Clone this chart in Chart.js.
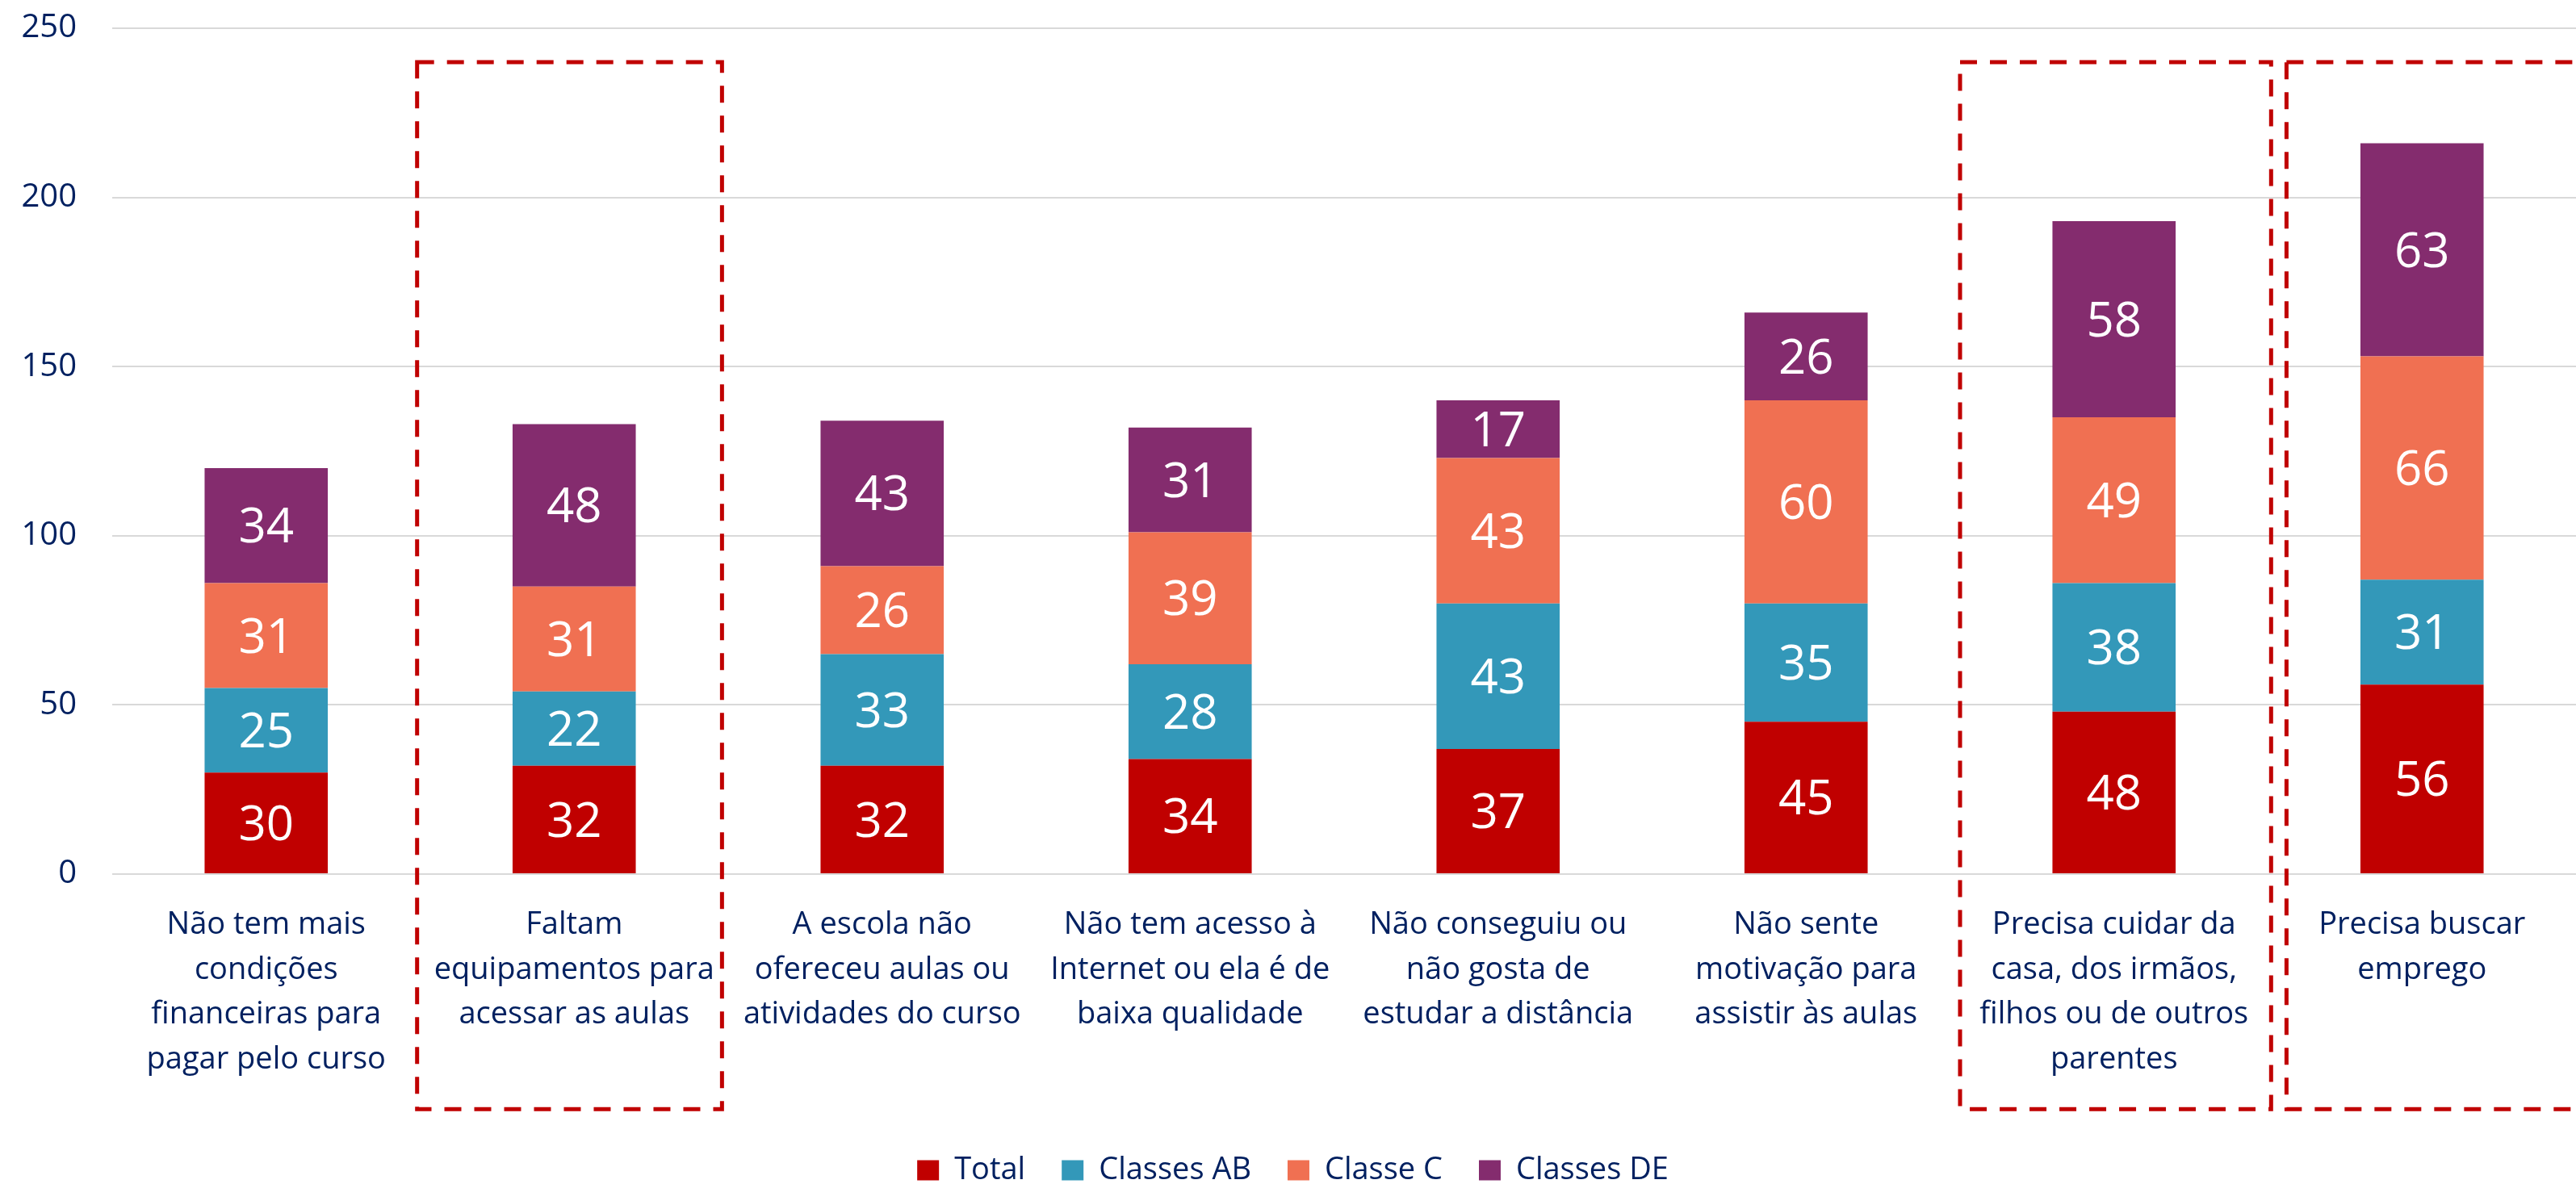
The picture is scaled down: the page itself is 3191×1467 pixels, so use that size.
<!DOCTYPE html>
<html>
<head>
<meta charset="utf-8">
<script src="https://cdn.jsdelivr.net/npm/chart.js@4"></script>
<style>
  html, body { margin: 0; padding: 0; background: #fff; }
  canvas { display: block; }
</style>
</head>
<body>
<canvas id="myChart" width="3191" height="1467" style="width:3191px;height:1467px"></canvas>
<script>
const categories = [
  ['Não tem mais', 'condições', 'financeiras para', 'pagar pelo curso'],
  ['Faltam', 'equipamentos para', 'acessar as aulas'],
  ['A escola não', 'ofereceu aulas ou', 'atividades do curso'],
  ['Não tem acesso à', 'Internet ou ela é de', 'baixa qualidade'],
  ['Não conseguiu ou', 'não gosta de', 'estudar a distância'],
  ['Não sente', 'motivação para', 'assistir às aulas'],
  ['Precisa cuidar da', 'casa, dos irmãos,', 'filhos ou de outros', 'parentes'],
  ['Precisa buscar', 'emprego'],
];

const total = [30, 32, 32, 34, 37, 45, 48, 56];
const classesAB = [25, 22, 33, 28, 43, 35, 38, 31];
const classeC = [31, 31, 26, 39, 43, 60, 49, 66];
const classesDE = [34, 48, 43, 31, 17, 26, 58, 63];

const yTicks = [0, 50, 100, 150, 200, 250];

// dashed highlight boxes, spans in category units
const highlights = [[0.49, 1.48], [5.5, 6.51], [6.56, 7.6]];

const navy = '#002060';
const font = 'Open Sans';

const valueLabels = {
  id: 'valueLabels',
  afterDatasetsDraw(chart) {
    const ctx = chart.ctx;
    ctx.save();
    ctx.fillStyle = '#fff';
    ctx.font = '60px "' + font + '"';
    ctx.textAlign = 'center';
    ctx.textBaseline = 'middle';
    chart.data.datasets.forEach((ds, i) => {
      chart.getDatasetMeta(i).data.forEach((bar, j) => {
        ctx.fillText(ds.data[j], bar.x, (bar.y + bar.base) / 2 + 4);
      });
    });
    ctx.restore();
  },
};

const dashedBoxes = {
  id: 'dashedBoxes',
  afterDraw(chart) {
    const ctx = chart.ctx;
    const x = chart.scales.x;
    const y = chart.scales.y;
    ctx.save();
    ctx.strokeStyle = '#C00000';
    ctx.lineWidth = 5;
    ctx.setLineDash([21, 16]);
    highlights.forEach(([a, b]) => {
      const left = x.getPixelForValue(a);
      const right = x.getPixelForValue(b);
      const top = y.getPixelForValue(240);
      const bottom = y.getPixelForValue(-69.5);
      ctx.strokeRect(left, top, right - left, bottom - top);
    });
    ctx.restore();
  },
};

let ctx = document.getElementById('myChart').getContext('2d');
let myChart = new Chart(ctx, {
  type: 'bar',
  data: {
    labels: categories,
    datasets: [
      { label: 'Total', data: total, backgroundColor: '#C00000' },
      { label: 'Classes AB', data: classesAB, backgroundColor: '#3398B9' },
      { label: 'Classe C', data: classeC, backgroundColor: '#F07052' },
      { label: 'Classes DE', data: classesDE, backgroundColor: '#842C6E' },
    ],
  },
  options: {
    responsive: false,
    animation: false,
    devicePixelRatio: 1,
    layout: { padding: { top: 35, left: 0, right: -12, bottom: -12 } },
    datasets: {
      bar: { categoryPercentage: 1, barPercentage: 0.4, borderWidth: 0 },
    },
    scales: {
      x: {
        stacked: true,
        grid: { display: false },
        border: { display: false },
        ticks: {
          color: navy,
          font: { family: font, size: 38, lineHeight: 1.47 },
          padding: 27,
          maxRotation: 0,
          autoSkip: false,
        },
        afterFit(scale) { scale.height = 303; },
      },
      y: {
        stacked: true,
        min: 0,
        max: 250,
        afterBuildTicks(scale) { scale.ticks = yTicks.map((v) => ({ value: v })); },
        grid: { color: '#D9D9D9', lineWidth: 2, drawTicks: false },
        border: { display: false },
        ticks: {
          color: navy,
          font: { family: font, size: 40 },
          padding: 44,
        },
        afterFit(scale) {
          scale.width = 139;
          scale.paddingTop = 24;
          scale.paddingBottom = 24;
        },
      },
    },
    plugins: {
      legend: {
        position: 'bottom',
        labels: {
          color: navy,
          font: { family: font, size: 38 },
          boxWidth: 27,
          boxHeight: 25,
          padding: 45,
        },
      },
      tooltip: { enabled: false },
    },
  },
  plugins: [valueLabels, dashedBoxes],
});
</script>
</body>
</html>
